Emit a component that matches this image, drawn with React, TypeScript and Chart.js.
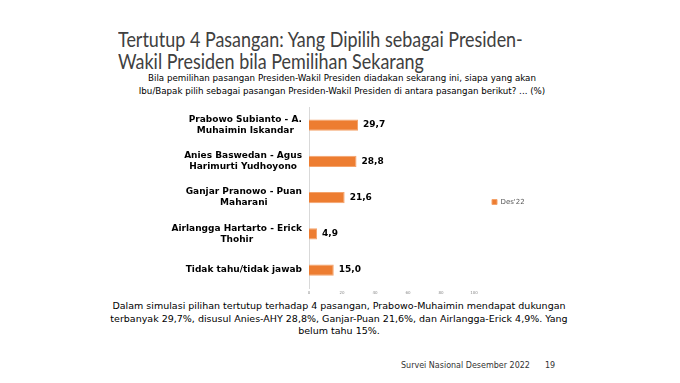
import React, { useEffect, useRef } from "react";
import { Chart, registerables } from "chart.js";

Chart.register(...registerables);

const categories: string[][] = [
  ["Prabowo Subianto - A.", "Muhaimin Iskandar"],
  ["Anies Baswedan - Agus", "Harimurti Yudhoyono"],
  ["Ganjar Pranowo - Puan", "Maharani"],
  ["Airlangga Hartarto - Erick", "Thohir"],
  ["Tidak tahu/tidak jawab"],
];
const seriesName = "Des'22";
const values = [29.7, 28.8, 21.6, 4.9, 15.0];
const xTicks = [0, 20, 40, 60, 80, 100];

const ORANGE = "#ED7D31";

const catLabelPlugin = {
  id: "catLabels",
  afterDraw(chart: any) {
    const ctx = chart.ctx;
    const y = chart.scales.y;
    const left = chart.chartArea.left;
    ctx.save();
    ctx.font = 'bold 9px "DejaVu Sans"';
    ctx.fillStyle = "#000";
    ctx.textBaseline = "middle";
    ctx.textAlign = "center";
    categories.forEach((lines, i) => {
      const cy = y.getPixelForValue(i);
      const w = Math.max(...lines.map((l) => ctx.measureText(l).width));
      const cx = left - 7 - w / 2;
      const lh = 11;
      lines.forEach((l, j) => ctx.fillText(l, cx, cy + (j - (lines.length - 1) / 2) * lh));
    });
    ctx.restore();
  },
};

const valueLabelPlugin = {
  id: "valueLabels",
  afterDatasetsDraw(chart: any) {
    const ctx = chart.ctx;
    const meta = chart.getDatasetMeta(0);
    ctx.save();
    ctx.font = 'bold 9px "DejaVu Sans"';
    ctx.fillStyle = "#000";
    ctx.textBaseline = "middle";
    ctx.textAlign = "left";
    meta.data.forEach((bar: any, i: number) => {
      ctx.fillText(values[i].toFixed(1).replace(".", ","), bar.x + 5, bar.y);
    });
    ctx.restore();
  },
};

function BarChart() {
  const ref = useRef<HTMLCanvasElement | null>(null);
  useEffect(() => {
    if (!ref.current) return;
    const chart = new Chart(ref.current, {
      type: "bar",
      data: {
        labels: categories.map((c) => c.join(" ")),
        datasets: [
          {
            label: seriesName,
            data: values,
            backgroundColor: ORANGE,
            borderColor: "#F4A36B",
            borderWidth: 1,
            barPercentage: 0.62,
            categoryPercentage: 0.5,
          },
        ],
      },
      options: {
        indexAxis: "y",
        animation: false,
        responsive: false,
        maintainAspectRatio: false,
        layout: { padding: { left: 209, top: 7, right: 31, bottom: 0 } },
        plugins: {
          legend: {
            position: "right",
            labels: {
              boxWidth: 5,
              boxHeight: 5,
              padding: 18,
              color: "#595959",
              font: { family: "DejaVu Sans", size: 7 },
            },
          },
          tooltip: { enabled: false },
        },
        scales: {
          x: {
            min: 0,
            max: 100,
            afterBuildTicks: (s: any) => {
              s.ticks = xTicks.map((v) => ({ value: v }));
            },
            grid: { display: false, drawTicks: false },
            border: { display: false },
            ticks: {
              color: "#8c8c8c",
              font: { family: "DejaVu Sans", size: 4 },
              padding: 2,
            },
          },
          y: {
            grid: { display: false, drawTicks: false },
            border: { display: true, color: "#d9d9d9" },
            ticks: { display: false },
          },
        },
      },
      plugins: [catLabelPlugin, valueLabelPlugin],
    });
    return () => chart.destroy();
  }, []);
  return <canvas ref={ref} width={460} height={197} style={{ position: "absolute", left: 100, top: 100 }} />;
}

export default function App() {
  return (
    <div style={{ position: "absolute", left: 0, top: 0, width: 680, height: 383, background: "#fff", overflow: "hidden" }}>
      <div
        style={{
          position: "absolute",
          left: 118,
          top: 28,
          fontFamily: "Lato",
          fontSize: 20.5,
          lineHeight: "22px",
          color: "#404040",
          whiteSpace: "nowrap",
          transform: "scaleX(0.875)",
          transformOrigin: "left top",
        }}
      >
        Tertutup 4 Pasangan: Yang Dipilih sebagai Presiden-
        <br />
        Wakil Presiden bila Pemilihan Sekarang
      </div>
      <div
        style={{
          position: "absolute",
          left: 0,
          width: 684,
          top: 72,
          textAlign: "center",
          fontFamily: "DejaVu Sans",
          fontSize: 8.7,
          lineHeight: "13px",
          color: "#000",
          whiteSpace: "nowrap",
        }}
      >
        Bila pemilihan pasangan Presiden-Wakil Presiden diadakan sekarang ini, siapa yang akan
        <br />
        Ibu/Bapak pilih sebagai pasangan Presiden-Wakil Presiden di antara pasangan berikut? ... (%)
      </div>
      <BarChart />
      <div
        style={{
          position: "absolute",
          left: 0,
          width: 678,
          top: 300,
          textAlign: "center",
          fontFamily: "DejaVu Sans",
          fontSize: 9.5,
          lineHeight: "12.5px",
          color: "#000",
          whiteSpace: "nowrap",
        }}
      >
        Dalam simulasi pilihan tertutup terhadap 4 pasangan, Prabowo-Muhaimin mendapat dukungan
        <br />
        terbanyak 29,7%, disusul Anies-AHY 28,8%, Ganjar-Puan 21,6%, dan Airlangga-Erick 4,9%. Yang
        <br />
        belum tahu 15%.
      </div>
      <div
        style={{
          position: "absolute",
          left: 401,
          top: 361,
          fontFamily: "DejaVu Sans",
          fontSize: 8,
          color: "#333",
          whiteSpace: "nowrap",
        }}
      >
        Survei Nasional Desember 2022
      </div>
      <div
        style={{
          position: "absolute",
          left: 545,
          top: 361,
          fontFamily: "DejaVu Sans",
          fontSize: 8,
          color: "#333",
          whiteSpace: "nowrap",
        }}
      >
        19
      </div>
    </div>
  );
}
